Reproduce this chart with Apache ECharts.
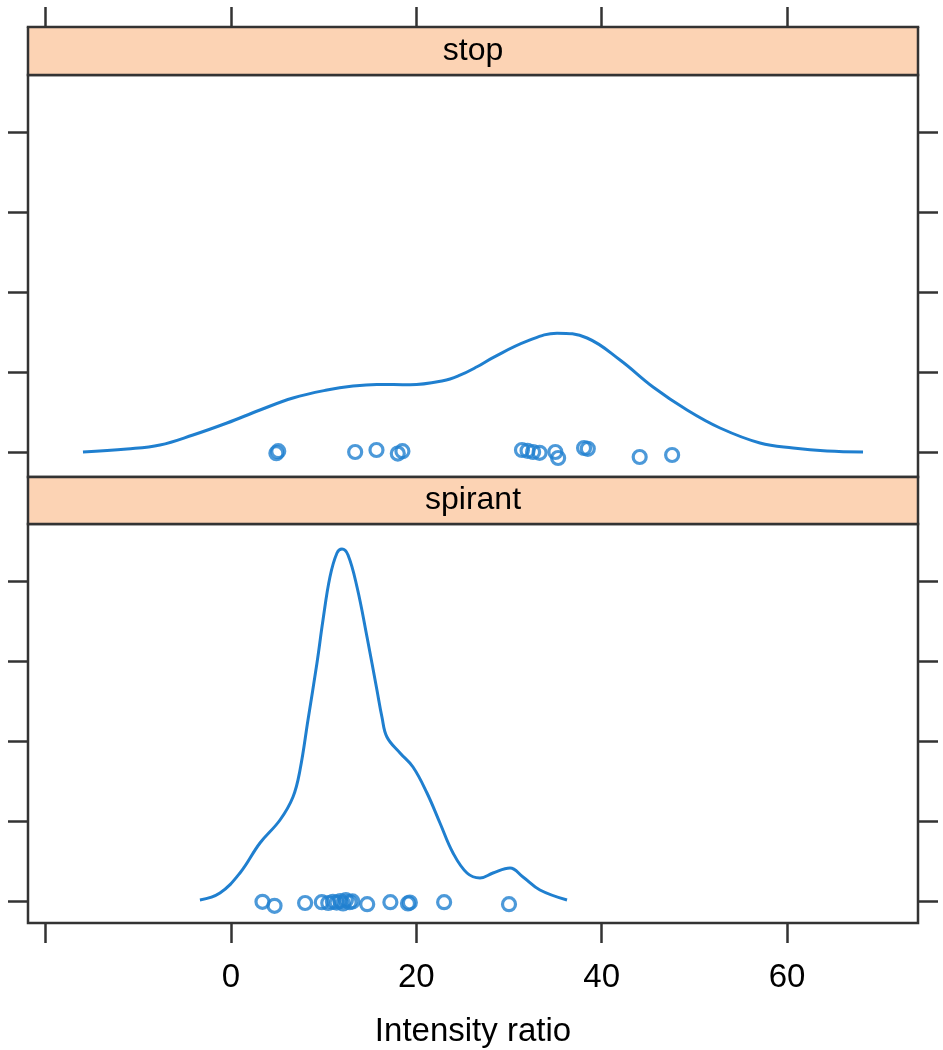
<!DOCTYPE html>
<html>
<head>
<meta charset="utf-8">
<script src="https://cdn.jsdelivr.net/npm/echarts@6/dist/echarts.min.js"></script>
<style>html,body{margin:0;padding:0;background:#fff}#c{width:943px;height:1050px}</style>
</head>
<body>
<div id="c"></div>
<script>
// ---- data ----
const panels = ['stop', 'spirant'];
const xTicks = [-20, 0, 20, 40, 60];
const xTickLabels = [0, 20, 40, 60];
const yTicks = [0, 0.02, 0.04, 0.06, 0.08];

// density curve of "stop"
const stopCurveX = [-15.97, -11.22, -7.66, -4.10, -0.43, 3.13, 6.69, 10.36, 13.17, 15.75, 19.32, 22.88, 24.71, 26.55, 28.27, 31.94, 35.18, 38.42, 41.98, 45.54, 49.21, 52.77, 57.08, 60.65, 64.31, 68.2];
const stopCurveY = [0, 0.00075, 0.00175, 0.00425, 0.00725, 0.0105, 0.0135, 0.0155, 0.0165, 0.0169, 0.0168, 0.0178, 0.0192, 0.0213, 0.0236, 0.0277, 0.0297, 0.0285, 0.023, 0.01625, 0.0105, 0.006, 0.00225, 0.001, 0.00025, 0];

// density curve of "spirant"
const spirCurveX = [-3.35, -1.19, 0.97, 3.13, 5.29, 6.69, 7.45, 8.31, 9.28, 9.93, 10.68, 11.44, 11.98, 12.63, 13.60, 14.68, 15.75, 16.29, 16.83, 18.24, 19.64, 21.15, 22.55, 23.96, 25.47, 26.87, 28.27, 30.11, 31.51, 33.34, 36.26];
const spirCurveY = [0.00025, 0.002, 0.007, 0.0145, 0.02025, 0.026, 0.03275, 0.04525, 0.0595, 0.07025, 0.081, 0.087, 0.088, 0.0865, 0.0785, 0.066, 0.05275, 0.046, 0.041, 0.037, 0.0335, 0.027, 0.0195, 0.012, 0.007, 0.00575, 0.007, 0.00825, 0.006, 0.00275, 0.00025];

// raw observations (x) with their jittered heights (y)
const stopPtsX = [4.9, 5.1, 13.4, 15.7, 18.0, 18.5, 31.4, 32.0, 32.6, 33.3, 35.0, 35.3, 38.1, 38.5, 44.1, 47.6];
const stopPtsY = [-0.0003, 0.0002, 0.0, 0.0005, -0.0004, 0.0002, 0.0005, 0.0003, 0.0, -0.0002, 0.0, -0.0015, 0.001, 0.0008, -0.00125, -0.00075];
const spirPtsX = [3.4, 4.7, 8.0, 9.8, 10.5, 11.0, 11.4, 11.8, 12.1, 12.4, 12.8, 13.1, 14.7, 17.2, 19.1, 19.3, 23.0, 30.0];
const spirPtsY = [-0.0002, -0.0012, -0.0005, -0.0003, -0.0005, -0.0002, -0.0004, 0.0, -0.0006, 0.0002, -0.0003, -0.0001, -0.0008, -0.0003, -0.0006, -0.0004, -0.0003, -0.0008];

// ---- chart ----
const zip = (a, b) => a.map((v, i) => [v, b[i]]);
const BLUE = '#1f7fcf';
const AX = '#333333';
const FONT = '"Liberation Sans", Arial, Helvetica, sans-serif';
const XMIN = -21.9, XMAX = 74.13;

function yAxis(gi, pos, min, max) {
  return {
    type: 'value', gridIndex: gi, position: pos, min: min, max: max,
    axisLine: { show: false, onZero: false },
    axisTick: { show: true, inside: false, length: 20, customValues: yTicks, lineStyle: { color: AX, width: 2.5 } },
    axisLabel: { show: false },
    splitLine: { show: false }
  };
}

const chart = echarts.init(document.getElementById('c'), null, { renderer: 'canvas' });
chart.setOption({
  animation: false,
  backgroundColor: '#fff',
  grid: [
    { left: 28, right: 25, top: 75, height: 402, show: true, borderColor: AX, borderWidth: 2.5, backgroundColor: 'transparent' },
    { left: 28, right: 25, top: 524, height: 399, show: true, borderColor: AX, borderWidth: 2.5, backgroundColor: 'transparent' }
  ],
  xAxis: [
    {
      type: 'value', gridIndex: 0, position: 'top', offset: 48, min: XMIN, max: XMAX,
      axisLine: { show: true, onZero: false, lineStyle: { color: AX, width: 2.5 } },
      axisTick: { show: true, inside: false, length: 20, customValues: xTicks, lineStyle: { color: AX, width: 2.5 } },
      axisLabel: { show: false },
      splitLine: { show: false }
    },
    {
      type: 'value', gridIndex: 1, position: 'bottom', min: XMIN, max: XMAX,
      name: 'Intensity ratio', nameLocation: 'middle', nameGap: 92,
      nameTextStyle: { fontFamily: FONT, fontSize: 33, color: '#000' },
      axisLine: { show: false, onZero: false },
      axisTick: { show: true, inside: false, length: 20, customValues: xTicks, lineStyle: { color: AX, width: 2.5 } },
      axisLabel: { show: true, customValues: xTickLabels, margin: 38, fontFamily: FONT, fontSize: 33, color: '#000' },
      splitLine: { show: false }
    }
  ],
  yAxis: [
    yAxis(0, 'left', -0.00625, 0.09425),
    yAxis(0, 'right', -0.00625, 0.09425),
    yAxis(1, 'left', -0.0055, 0.09425),
    yAxis(1, 'right', -0.0055, 0.09425)
  ],
  graphic: [
    { type: 'rect', z: 10, shape: { x: 28, y: 27, width: 890, height: 48 }, style: { fill: '#fcd3b4', stroke: AX, lineWidth: 2.5 } },
    { type: 'text', z: 11, x: 473, y: 51, style: { text: panels[0], fill: '#000', font: '32px ' + FONT, textAlign: 'center', textVerticalAlign: 'middle' } },
    { type: 'rect', z: 10, shape: { x: 28, y: 477, width: 890, height: 47 }, style: { fill: '#fcd3b4', stroke: AX, lineWidth: 2.5 } },
    { type: 'text', z: 11, x: 473, y: 500, style: { text: panels[1], fill: '#000', font: '32px ' + FONT, textAlign: 'center', textVerticalAlign: 'middle' } }
  ],
  series: [
    { type: 'line', name: panels[0], xAxisIndex: 0, yAxisIndex: 0, data: zip(stopCurveX, stopCurveY), smooth: 0.4, symbol: 'none', lineStyle: { color: BLUE, width: 3 } },
    { type: 'scatter', name: panels[0], xAxisIndex: 0, yAxisIndex: 0, data: zip(stopPtsX, stopPtsY), symbol: 'circle', symbolSize: 13, itemStyle: { color: 'rgba(0,0,0,0)', borderColor: BLUE, borderWidth: 3.2 } },
    { type: 'line', name: panels[1], xAxisIndex: 1, yAxisIndex: 2, data: zip(spirCurveX, spirCurveY), smooth: 0.4, symbol: 'none', lineStyle: { color: BLUE, width: 3 } },
    { type: 'scatter', name: panels[1], xAxisIndex: 1, yAxisIndex: 2, data: zip(spirPtsX, spirPtsY), symbol: 'circle', symbolSize: 13, itemStyle: { color: 'rgba(0,0,0,0)', borderColor: BLUE, borderWidth: 3.2 } }
  ]
});
</script>
</body>
</html>
